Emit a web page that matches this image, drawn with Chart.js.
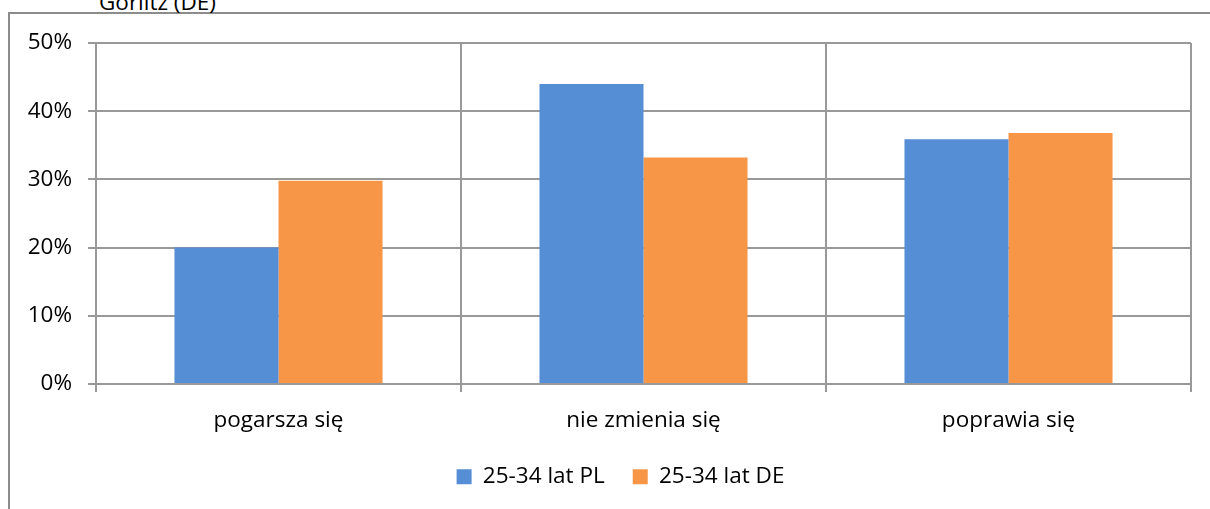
<!DOCTYPE html>
<html>
<head>
<meta charset="utf-8">
<script src="https://cdn.jsdelivr.net/npm/chart.js@4.4.1/dist/chart.umd.min.js"></script>
<style>
  html, body { margin: 0; padding: 0; background: #fff; overflow: hidden; }
  #wrap { position: relative; width: 1210px; height: 509px; }
  #frame { position: absolute; left: 8px; top: 12px; width: 1220px; height: 520px;
           border-left: 2px solid #8c8c8c; border-top: 2px solid #8c8c8c; }
  #title { position: absolute; left: 99px; top: -10px; font-family: 'Open Sans', sans-serif;
           font-size: 22.5px; line-height: 23px; color: #000; white-space: nowrap; }
  canvas { position: absolute; left: 0; top: 0; }
</style>
</head>
<body>
<div id="wrap">
  <div id="frame"></div>
  <div id="title">Görlitz (DE)</div>
  <canvas id="c" width="1210" height="509"></canvas>
</div>
<script>
const categories = ['pogarsza się', 'nie zmienia się', 'poprawia się'];
const seriesPL = [20.0, 44.0, 35.9];
const seriesDE = [29.8, 33.2, 36.8];
const seriesNames = ['25-34 lat PL', '25-34 lat DE'];
const yTicks = [0, 10, 20, 30, 40, 50];

const FONT = "'Open Sans', sans-serif";
const FSIZE = 22.5;
const gridColor = '#999999';

const shiftLegend = {
  id: 'shiftLegend',
  afterLayout(chart) {
    if (chart.legend) { chart.legend.left += 50; }
  }
};

new Chart(document.getElementById('c'), {
  type: 'bar',
  data: {
    labels: categories,
    datasets: [
      { label: seriesNames[0], data: seriesPL, backgroundColor: '#558ED5', borderWidth: 0,
        categoryPercentage: 0.57, barPercentage: 1.0 },
      { label: seriesNames[1], data: seriesDE, backgroundColor: '#F79646', borderWidth: 0,
        categoryPercentage: 0.57, barPercentage: 1.0 }
    ]
  },
  plugins: [shiftLegend],
  options: {
    responsive: false,
    animation: false,
    layout: { padding: { left: 0, right: 19, top: 43, bottom: 11 } },
    plugins: {
      legend: {
        position: 'bottom',
        labels: {
          font: { family: FONT, size: FSIZE },
          color: '#000',
          boxWidth: 15,
          boxHeight: 15,
          padding: 28
        }
      },
      tooltip: { enabled: false }
    },
    scales: {
      x: {
        grid: { color: gridColor, lineWidth: 2, tickLength: 8, offset: true, drawTicks: true },
        border: { color: gridColor, width: 2 },
        ticks: { font: { family: FONT, size: FSIZE }, color: '#000', padding: 15, maxRotation: 0 },
        afterFit: s => { s.height = 53.5; }
      },
      y: {
        min: 0, max: 50,
        afterBuildTicks: s => { s.ticks = yTicks.map(v => ({ value: v })); },
        grid: { color: gridColor, lineWidth: 2, tickLength: 8 },
        border: { color: gridColor, width: 2 },
        ticks: { font: { family: FONT, size: FSIZE }, color: '#000', padding: 16,
                 callback: v => v + '%' },
        afterFit: s => { s.width = 96; }
      }
    }
  }
});
</script>
</body>
</html>
